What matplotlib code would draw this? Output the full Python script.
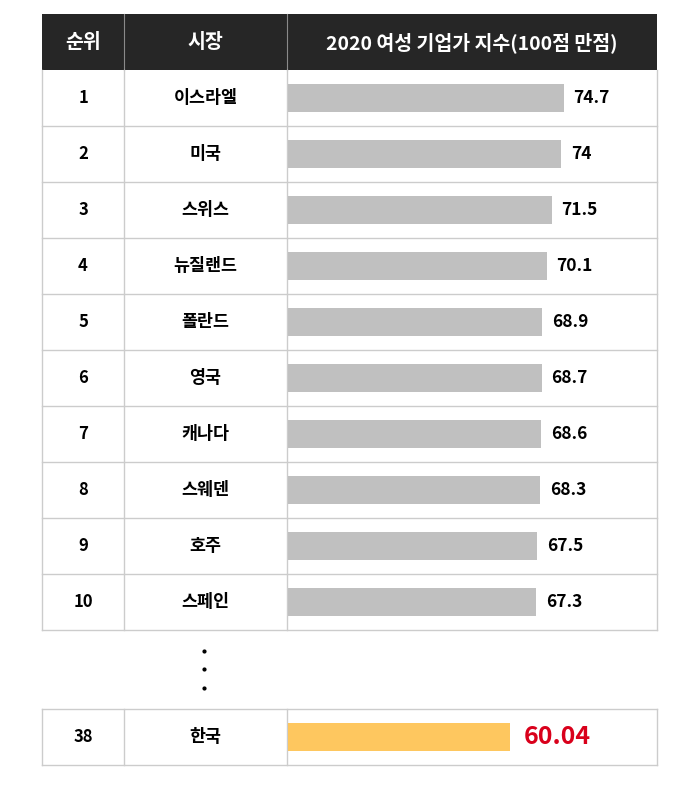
import matplotlib
matplotlib.use('Agg')
import matplotlib.pyplot as plt

plt.rcParams['font.family'] = ['Noto Sans CJK KR', 'DejaVu Sans']

# data
ranks = ['1', '2', '3', '4', '5', '6', '7', '8', '9', '10', '38']
markets = ['이스라엘', '미국', '스위스', '뉴질랜드', '폴란드', '영국', '캐나다', '스웨덴', '호주', '스페인', '한국']
scores = [74.7, 74, 71.5, 70.1, 68.9, 68.7, 68.6, 68.3, 67.5, 67.3, 60.04]
score_labels = ['74.7', '74', '71.5', '70.1', '68.9', '68.7', '68.6', '68.3', '67.5', '67.3', '60.04']
headers = ['순위', '시장', '2020 여성 기업가 지수(100점 만점)']

W, H = 700, 790
xs = [42, 124, 287, 657]          # column edges (px)
top, rh = 14, 56                  # header top, row height
last_top = 709
row_top = [top + rh * (i + 1) for i in range(10)] + [last_top]
row_c = [t + rh / 2 for t in row_top]

line_c = '#cccccc'
fig = plt.figure(figsize=(7, 7.9), dpi=100)
bg = fig.add_axes([0, 0, 1, 1])
bg.set_xlim(0, W)
bg.set_ylim(H, 0)
bg.axis('off')

# header
bg.fill_between([xs[0], xs[3]], top, top + rh, color='#262626', lw=0)
for x in xs[1:3]:
    bg.plot([x, x], [top, top + rh], color='#8a8a8a', lw=0.8)
for j, h in enumerate(headers):
    bg.text((xs[j] + xs[j + 1]) / 2, top + rh / 2 + 1, h, color='white', fontsize=14,
            fontweight='bold', ha='center', va='center')

# table grid
def frame(y0, y1):
    bg.plot([xs[0], xs[3]], [y1, y1], color=line_c, lw=1)
    for x in xs:
        bg.plot([x, x], [y0, y1], color=line_c, lw=1)

frame(top + rh, top + rh * 11)
for i in range(1, 10):
    bg.plot([xs[0], xs[3]], [top + rh * (i + 1)] * 2, color=line_c, lw=1)
bg.plot([xs[0], xs[3]], [last_top, last_top], color=line_c, lw=1)
frame(last_top, last_top + rh)

for r, m, yc in zip(ranks, markets, row_c):
    bg.text((xs[0] + xs[1]) / 2, yc, r, fontsize=12, fontweight='bold', ha='center', va='center')
    bg.text((xs[1] + xs[2]) / 2, yc, m, fontsize=12.5, fontweight='bold', ha='center', va='center')

# ellipsis dots
bg.plot([204, 204, 204], [651, 669, 688], 'o', ms=2, color='black')

# bars
axb = fig.add_axes([(xs[2] + 1) / W, (H - (last_top + rh)) / H,
                    (xs[3] - xs[2] - 1) / W, (last_top + rh - top) / H])
axb.set_xlim(0, 100)
axb.set_ylim(last_top + rh, top)
axb.axis('off')
colors = ['#c0c0c0'] * 10 + ['#fec75f']
axb.barh(row_c, scores, height=28, color=colors)
for v, lab, yc, i in zip(scores, score_labels, row_c, range(11)):
    if i < 10:
        axb.annotate(lab, (v, yc), xytext=(7, 0), textcoords='offset points',
                     fontsize=12.5, fontweight='bold', ha='left', va='center')
    else:
        axb.annotate(lab, (v, yc), xytext=(10, 0), textcoords='offset points',
                     fontsize=18, fontweight='bold', ha='left', va='center', color='#d9001b')

fig.savefig('out.png', dpi=100)
